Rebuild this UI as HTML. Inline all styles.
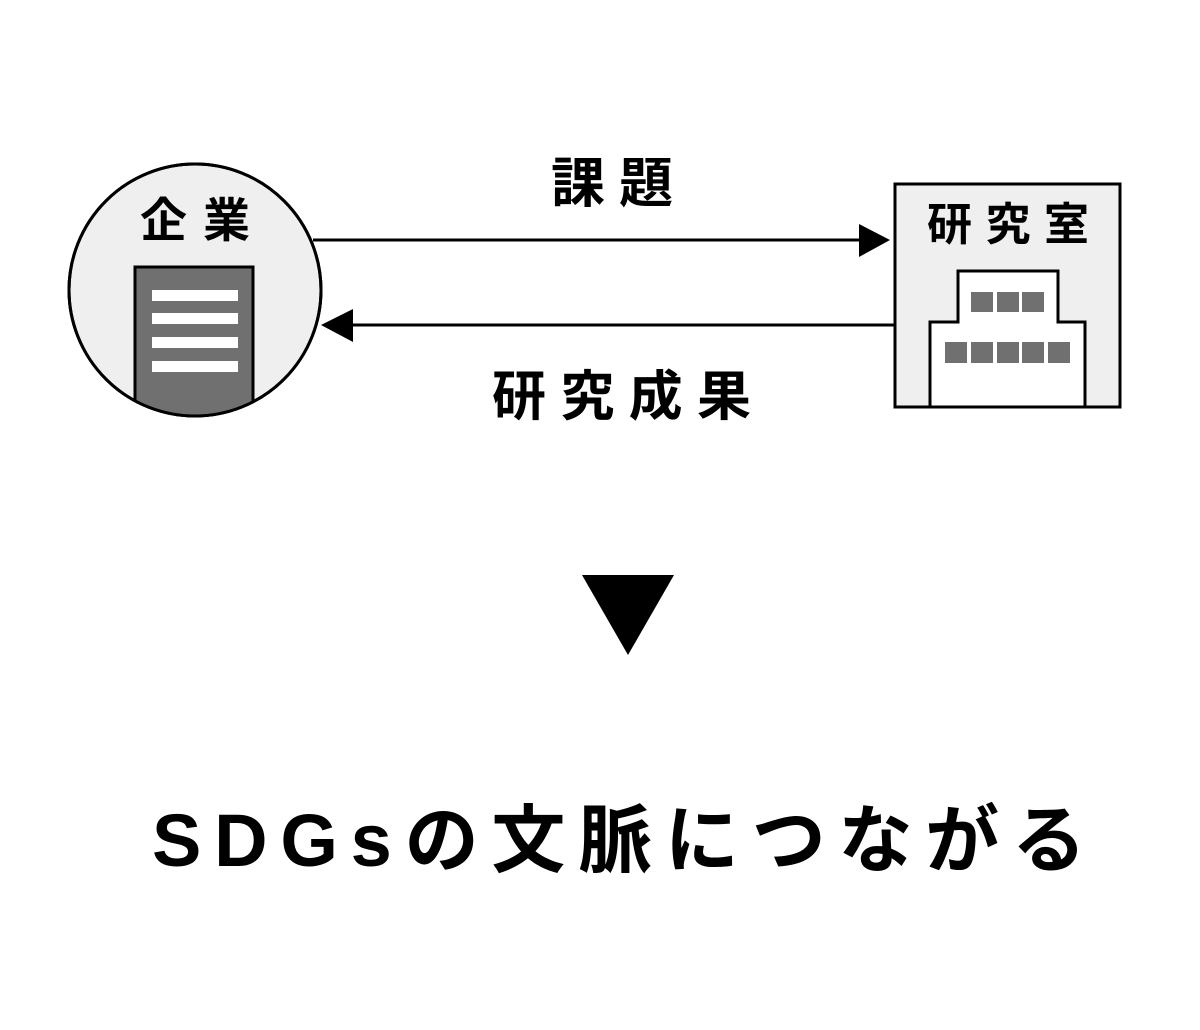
<!DOCTYPE html>
<html><head><meta charset="utf-8"><style>html,body{margin:0;padding:0;background:#fff;}svg{display:block}</style></head>
<body>
<svg width="1200" height="1030" viewBox="0 0 1200 1030" xmlns="http://www.w3.org/2000/svg" font-family="'Liberation Sans','Noto Sans CJK JP',sans-serif" font-weight="bold">
<defs><clipPath id="c"><circle cx="195" cy="290" r="125"/></clipPath></defs>
<circle cx="195" cy="290" r="126" fill="#efefef" stroke="#000" stroke-width="3"/>
<g clip-path="url(#c)">
<rect x="135" y="267" width="118" height="160" fill="#707070" stroke="#000" stroke-width="3"/>
<rect x="152" y="290" width="86" height="11" fill="#fff"/>
<rect x="152" y="313" width="86" height="11" fill="#fff"/>
<rect x="152" y="337" width="86" height="11" fill="#fff"/>
<rect x="152" y="361" width="86" height="11" fill="#fff"/>
</g>
<circle cx="195" cy="290" r="126" fill="none" stroke="#000" stroke-width="3"/>
<text x="140" y="237" font-size="47" textLength="110" lengthAdjust="spacing">企業</text>

<line x1="313" y1="240" x2="862" y2="240" stroke="#000" stroke-width="3"/>
<polygon points="890,240 859,224 859,257" fill="#000"/>
<line x1="350" y1="325" x2="895" y2="325" stroke="#000" stroke-width="3"/>
<polygon points="321,325 353,309 353,342" fill="#000"/>
<text x="551" y="202" font-size="54" textLength="122" lengthAdjust="spacing">課題</text>
<text x="492" y="415" font-size="54" textLength="259" lengthAdjust="spacing">研究成果</text>

<rect x="895" y="184" width="225" height="223" fill="#efefef" stroke="#000" stroke-width="3"/>
<text x="927" y="240" font-size="45" textLength="162" lengthAdjust="spacing">研究室</text>
<polygon points="930,407 930,322 958,322 958,271 1058,271 1058,322 1085,322 1085,407" fill="#fff" stroke="#000" stroke-width="3"/>
<g fill="#707070">
<rect x="971" y="292" width="22" height="20"/><rect x="997" y="292" width="22" height="20"/><rect x="1022" y="292" width="22" height="20"/>
<rect x="945" y="342" width="22" height="21"/><rect x="971" y="342" width="22" height="21"/><rect x="997" y="342" width="22" height="21"/><rect x="1022" y="342" width="22" height="21"/><rect x="1048" y="342" width="22" height="21"/>
</g>

<polygon points="582,575 674,575 628,655" fill="#000"/>
<text x="152" y="866" font-size="74" textLength="934" lengthAdjust="spacing">SDGsの文脈につながる</text>
</svg>
</body></html>
